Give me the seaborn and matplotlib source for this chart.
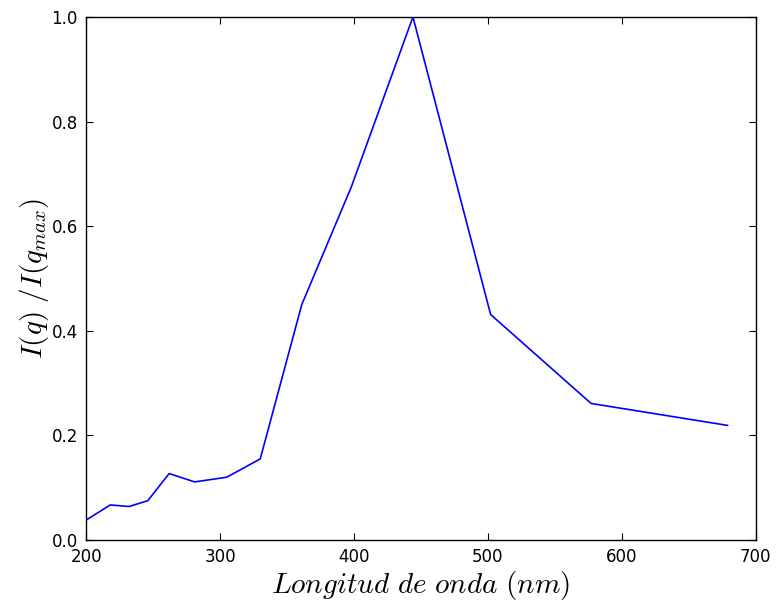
import matplotlib
matplotlib.use("Agg")
import numpy as np
import pandas as pd
import seaborn as sns
import matplotlib.pyplot as plt

# longitud de onda (nm) e intensidad normalizada
longitud = [200, 218, 232, 246, 262, 281, 305, 330, 361, 398, 444, 502, 577, 679]
intensidad = [0.038, 0.067, 0.064, 0.075, 0.127, 0.111, 0.120, 0.155, 0.45, 0.675, 1.0, 0.431, 0.261, 0.219]

df = pd.DataFrame({"x": longitud, "y": intensidad})

sns.set_style("ticks", {"xtick.direction": "in", "ytick.direction": "in",
                        "text.color": "black", "axes.labelcolor": "black",
                        "xtick.color": "black", "ytick.color": "black"})
plt.rcParams["font.family"] = ["DejaVu Sans"]
plt.rcParams["mathtext.fontset"] = "cm"

fig = plt.figure(figsize=(7.76, 6.04), dpi=100)
ax = fig.add_axes([0.111, 0.106, 0.863, 0.866])
sns.lineplot(data=df, x="x", y="y", color="#0000ff", linewidth=1.2, ax=ax, sort=False)

ax.set_xlim(200, 700)
ax.set_ylim(0, 1.0)
ax.set_xticks([200, 300, 400, 500, 600, 700])
ax.set_yticks([0.0, 0.2, 0.4, 0.6, 0.8, 1.0])
ax.tick_params(top=True, right=True, length=5, width=0.8, labelsize=12, pad=6,
               colors="black")
for s in ax.spines.values():
    s.set_linewidth(1.0)
    s.set_color("black")

ax.set_xlabel(r"$Longitud\ de\ onda\ (nm)$", fontsize=21, labelpad=2)
ax.set_ylabel(r"$I(q)\ /I(q_{max})$", fontsize=21, labelpad=0)

fig.savefig("out.png", dpi=100)
